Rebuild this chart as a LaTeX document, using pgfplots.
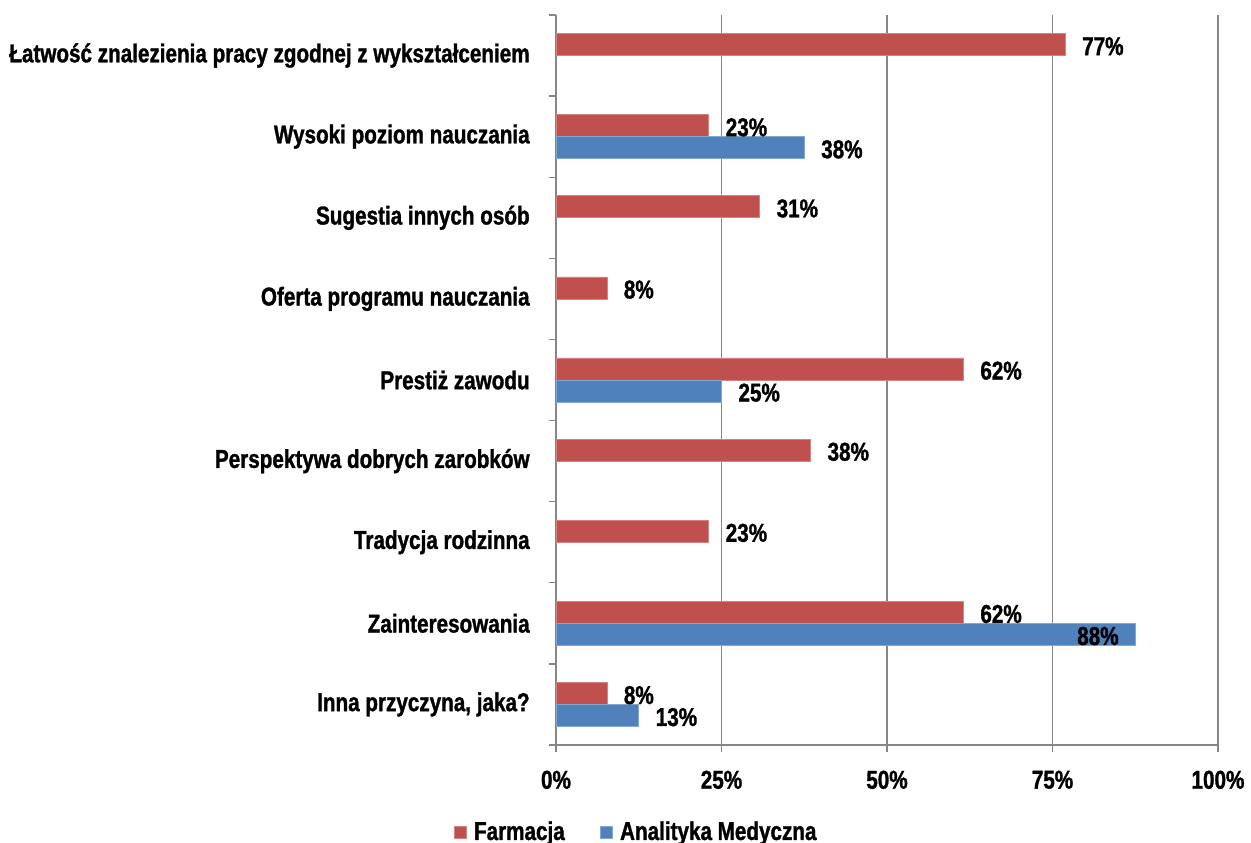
\documentclass[border=0pt]{standalone}
\usepackage{fontspec}
\setmainfont{Liberation Sans}[FakeStretch=0.8, BoldFeatures={FakeBold=1.2}]
\usepackage{pgfplots}
\pgfplotsset{compat=1.18}
\usepackage{pgfplotstable}

\definecolor{farm}{HTML}{C0504D}
\definecolor{anal}{HTML}{4F81BD}
\definecolor{gridc}{HTML}{868686}

% y: 8 = top category, 0 = bottom; dx = label shift from bar end (pt)
\pgfplotstableread{
y x dx
8 76.92 10
7 23.08 10
6 30.77 10
5 7.69 10
4 61.54 10
3 38.46 10
2 23.08 10
1 61.54 10
0 7.69 10
}\farmacja

\pgfplotstableread{
y x dx
7 37.5 10
4 25 10
1 87.5 -35
0 12.5 10
}\analityka

\begin{document}
\begin{tikzpicture}
\begin{axis}[
  scale only axis,
  width=397.2pt, height=438pt,
  xbar, bar width=13.2pt,
  xmin=0, xmax=100, ymin=-0.5, ymax=8.5,
  enlargelimits=false,
  axis x line*=bottom, axis y line*=left,
  axis line style={draw=gridc, line width=0.8pt},
  xtick={0,25,50,75,100},
  xticklabel={\pgfmathprintnumber[assume math mode=true]{\tick}\%},
  xmajorgrids, major grid style={draw=gridc, line width=0.8pt},
  ytick={-0.5,0.5,...,8.5}, yticklabels={},
  extra y ticks={0,1,2,3,4,5,6,7,8},
  extra y tick labels={{Inna przyczyna, jaka?}, Zainteresowania, Tradycja rodzinna, Perspektywa dobrych zarobków, Prestiż zawodu, Oferta programu nauczania, Sugestia innych osób, Wysoki poziom nauczania, Łatwość znalezienia pracy zgodnej z wykształceniem},
  extra y tick style={major tick length=0pt, yticklabel style={anchor=east, inner sep=0pt, xshift=-15.6pt}},
  tick align=outside, major tick length=4.2pt,
  tick style={draw=gridc, line width=0.8pt},
  every tick label/.append style={font=\fontsize{15.5}{18}\selectfont\bfseries},
  xticklabel style={inner sep=0pt, yshift=-11pt},
  point meta=x,
  nodes near coords={\pgfmathprintnumber[fixed,precision=0,assume math mode=true]{\pgfplotspointmeta}\%},
  visualization depends on={\thisrow{dx} \as \dx},
  every node near coord/.append style={font=\fontsize{15.5}{18}\selectfont\bfseries, text=black, anchor=west, inner sep=0pt, xshift=\dx pt, yshift=-1pt},
  legend style={at={(0.122,-0.119)}, anchor=center, draw=none, legend columns=2,
    font=\fontsize{15.5}{18}\selectfont\bfseries,
    /tikz/every even column/.append style={column sep=19pt}},
  legend image code/.code={\fill[#1] (0pt,-3.6pt) rectangle (7.2pt,3.6pt); \path[draw=none, fill=none] (0pt,0pt) -- (10pt,0pt);},
  clip=false,
]
\addplot[fill=farm, draw=farm!70!white, bar shift=6.6pt] table[x=x, y=y] {\farmacja};
\addplot[fill=anal, draw=anal!70!white, bar shift=-6.6pt] table[x=x, y=y] {\analityka};
\legend{Farmacja, Analityka Medyczna}
\end{axis}
\pgfresetboundingbox
\path[use as bounding box] (-333.6pt,-58.8pt) rectangle (417pt,447pt);
\end{tikzpicture}
\end{document}
